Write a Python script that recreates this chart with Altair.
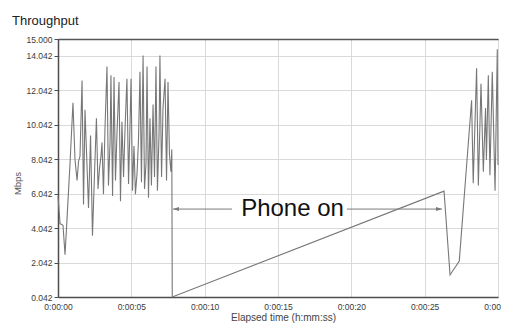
import altair as alt
import pandas as pd

# ---- data ----
times_a = [0.00, 0.14, 0.34, 0.48, 0.61, 0.82, 1.02, 1.16, 1.30, 1.40,
           1.50, 1.64, 1.74, 1.84, 1.98, 2.08, 2.22, 2.35, 2.49, 2.62,
           2.73, 2.83, 2.93, 3.00, 3.10, 3.20, 3.34, 3.44, 3.55, 3.61,
           3.72, 3.82, 3.92, 4.02, 4.16, 4.26, 4.36, 4.47, 4.57, 4.70,
           4.81, 4.91, 4.98, 5.08, 5.18, 5.28, 5.39, 5.49, 5.59, 5.69,
           5.80, 5.90, 6.00, 6.07, 6.17, 6.27, 6.37, 6.48, 6.58, 6.68,
           6.78, 6.89, 6.95, 7.06, 7.16, 7.30, 7.40, 7.50, 7.60, 7.70,
           7.76, 7.79]
mbps_a = [5.9, 4.3, 4.2, 2.5, 4.5, 7.8, 11.3, 8.0, 6.8, 7.9,
          8.2, 12.6, 5.4, 10.9, 7.6, 5.2, 9.4, 3.6, 7.2, 10.4,
          6.3, 7.5, 8.2, 9.0, 6.0, 9.7, 13.4, 6.5, 9.0, 12.9,
          5.9, 12.8, 6.8, 9.5, 12.5, 5.6, 10.2, 7.0, 9.8, 12.7,
          6.6, 10.0, 12.7, 6.2, 8.8, 6.0, 7.2, 9.2, 13.1, 6.7,
          14.05, 6.3, 7.8, 13.4, 5.8, 10.4, 6.5, 11.2, 7.0, 13.4,
          6.2, 9.5, 14.05, 7.0, 11.0, 12.7, 6.8, 12.5, 8.3, 7.3,
          8.6, 0.042]
times_b = [26.32, 26.73, 27.36, 28.20, 28.31, 28.54, 28.66, 28.84, 29.00,
           29.15, 29.21, 29.34, 29.45, 29.61, 29.80, 29.95, 30.00]
mbps_b = [6.18, 1.32, 2.13, 11.45, 6.64, 13.3, 6.5, 12.4, 7.3,
          11.0, 8.0, 12.9, 7.1, 13.1, 6.2, 14.4, 7.7]

y_ticks = [0.042, 2.042, 4.042, 6.042, 8.042, 10.042, 12.042, 14.042, 15.0]
x_ticks = [0, 5, 10, 15, 20, 25, 30]

annot_label = ["Phone on"]
annot_t = [15.99]
annot_v = [5.14]
arrow_from = [11.86, 19.7]
arrow_to = [7.84, 26.18]
arrow_v = [5.14, 5.14]

FONT = "Liberation Sans, Arial, sans-serif"
LEFT_HEAD = "M0,0L2,-0.65L2,0.65Z"
RIGHT_HEAD = "M0,0L-2,-0.65L-2,0.65Z"

df = pd.DataFrame({"t": times_a + times_b, "v": mbps_a + mbps_b})
arrows = pd.DataFrame({"t": arrow_from, "t2": arrow_to, "v": arrow_v})
heads = pd.DataFrame({"t": arrow_to, "v": arrow_v, "shape": [LEFT_HEAD, RIGHT_HEAD]})
annot = pd.DataFrame({"t": annot_t, "v": annot_v, "label": annot_label})

x_scale = alt.Scale(domain=[0, 30], nice=False, zero=False)
y_scale = alt.Scale(domain=[0.042, 15], nice=False, zero=False)

x_axis = alt.Axis(
    values=x_ticks,
    labelExpr="'0:00:' + (datum.value < 10 ? '0' : '') + datum.value",
    title="Elapsed time (h:mm:ss)",
    ticks=False,
    labelPadding=5,
    labelFontSize=8.5,
    titleFontSize=10,
    titleFontWeight="normal",
    titleColor="#444",
    titleX=225,
    titleY=20,
    titleBaseline="middle",
    titleAnchor="middle",
    gridColor="#d9d9d9",
    labelFlush=False,
)
y_axis = alt.Axis(
    values=y_ticks,
    format=".3f",
    title="Mbps",
    tickSize=4,
    labelPadding=2,
    labelFontSize=8.5,
    titleFontSize=9.5,
    titleFontWeight="normal",
    titleColor="#555",
    titleX=-41,
    titleY=144,
    titleBaseline="middle",
    titleAlign="center",
    gridColor={"condition": {"test": "datum.value >= 15", "value": "#555555"}, "value": "#d9d9d9"},
    gridWidth={"condition": {"test": "datum.value >= 15", "value": 1.6}, "value": 1},
)


def X(field="t"):
    return alt.X(f"{field}:Q", scale=x_scale, axis=x_axis)


def Y(field="v"):
    return alt.Y(f"{field}:Q", scale=y_scale, axis=y_axis)


line = alt.Chart(df).mark_line(color="#777777", strokeWidth=1.1).encode(x=X(), y=Y())

rules = alt.Chart(arrows).mark_rule(color="#7a7a7a", strokeWidth=1).encode(
    x=X(), x2="t2:Q", y=Y()
)
heads_layer = alt.Chart(heads).mark_point(
    filled=True, color="#7a7a7a", size=36, opacity=1, strokeWidth=0
).encode(x=X(), y=Y(), shape=alt.Shape("shape:N", scale=None, legend=None))

text = alt.Chart(annot).mark_text(
    fontSize=24, font=FONT, color="#111111", baseline="middle", align="center"
).encode(x=X(), y=Y(), text="label:N")

chart = (
    alt.layer(line, rules, heads_layer, text)
    .properties(
        width=440,
        height=258,
        autosize=alt.AutoSizeParams(type="none"),
        padding={"left": 50, "top": 31, "right": 3, "bottom": 27},
        title=alt.TitleParams(
            "Throughput",
            anchor="start",
            frame="group",
            dx=-46,
            dy=19,
            offset=16,
            baseline="alphabetic",
            fontSize=13,
            font=FONT,
            fontWeight="normal",
            color="#222222",
        ),
    )
    .configure(font=FONT)
    .configure_view(stroke="#8a8a8a", strokeWidth=1)
    .configure_axis(
        domainColor="#4d4d4d",
        domainWidth=1.5,
        tickColor="#4d4d4d",
        labelColor="#3a3a3a",
        labelFont=FONT,
        titleFont=FONT,
    )
)

chart.save("out.html", embed_options={"renderer": "svg", "actions": False})
